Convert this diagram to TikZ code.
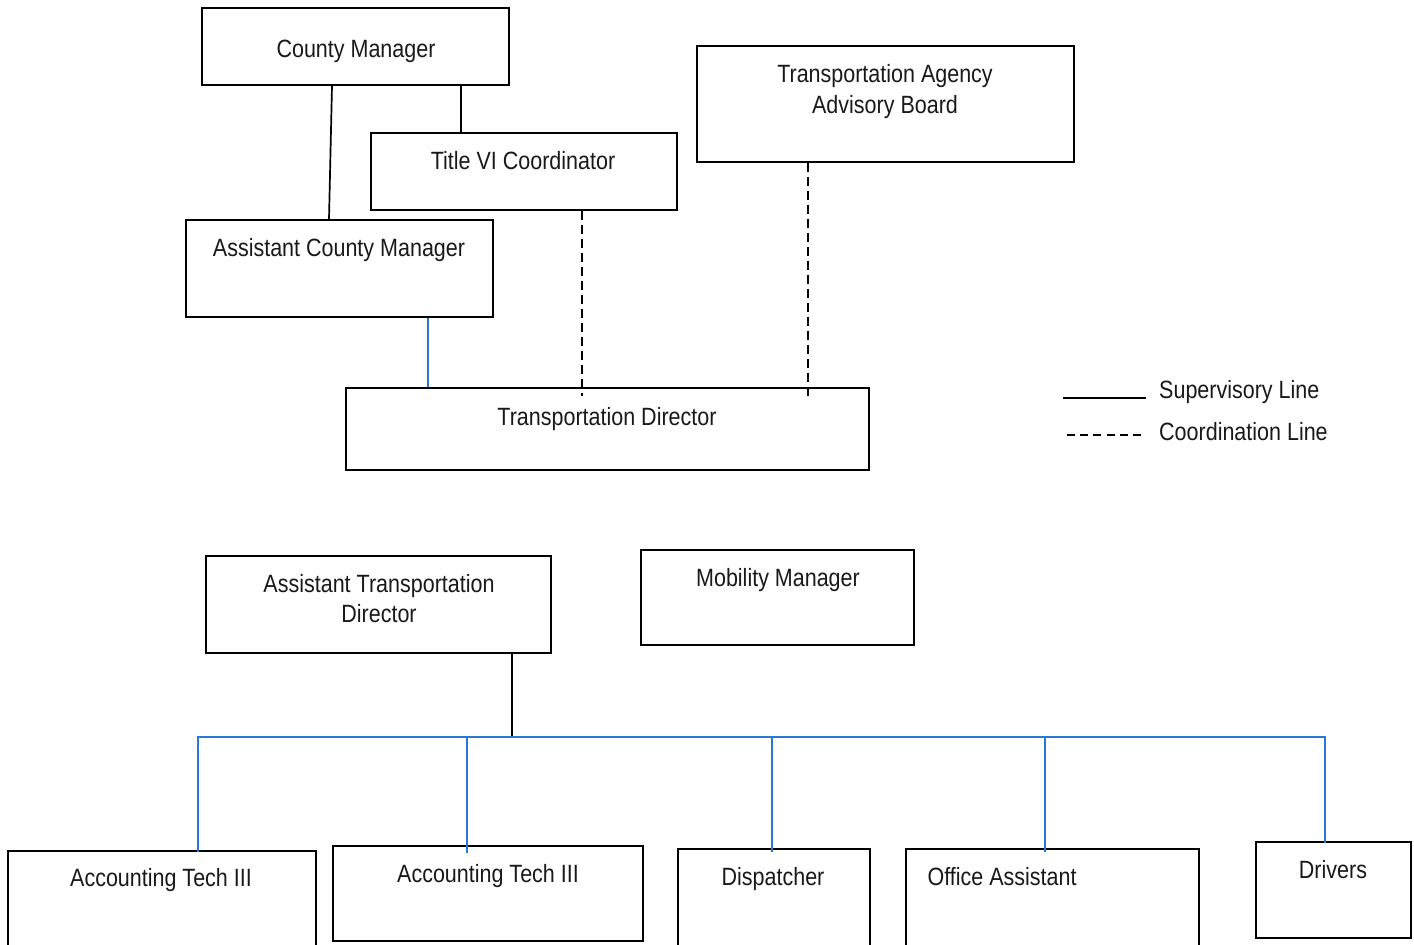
\documentclass[tikz,border=0pt]{standalone}
\usepackage{fontspec}
\setmainfont[FakeStretch=0.86]{Liberation Sans}
\definecolor{supblue}{RGB}{40,120,215}
\tikzset{
  box/.style={draw=black, line width=1.7pt, inner sep=0pt},
  lbl/.style={anchor=base, inner sep=0pt, font=\fontsize{25}{30}\selectfont, text=black!90},
  sup/.style={draw=black, line width=1.7pt},
  supb/.style={draw=supblue, line width=1.6pt},
  coord/.style={draw=black, line width=1.7pt, dash pattern=on 9pt off 5pt},
}
\newcommand{\mkbox}[5]{\node[box, minimum width=#4pt-#2pt, minimum height=#5pt-#3pt] (#1) at ({(#2+#4)/2},{(#3+#5)/2}) {};}
\begin{document}
\begin{tikzpicture}[x=1pt,y=-1pt]
\useasboundingbox (0,0) rectangle (1414,945);
% boxes
\mkbox{cm}{202}{8}{509}{85}
\mkbox{t6}{371}{133}{677}{210}
\mkbox{tab}{697}{46}{1074}{162}
\mkbox{acm}{186}{220}{493}{317}
\mkbox{td}{346}{388}{869}{470}
\mkbox{atd}{206}{556}{551}{653}
\mkbox{mm}{641}{550}{914}{645}
\mkbox{at1}{8}{851}{316}{950}
\mkbox{at2}{333}{846}{643}{941}
\mkbox{dis}{678}{849}{870}{950}
\mkbox{oa}{906}{849}{1199}{950}
\mkbox{drv}{1256}{842}{1411}{938}
% labels
\node[lbl] (cmt) at (356,57) {County Manager};
\node[lbl] (t6t) at (523,169) {Title VI Coordinator};
\node[lbl] (tabt1) at (885,82) {Transportation Agency};
\node[lbl] (tabt2) at (885,113) {Advisory Board};
\node[lbl] (acmt) at (339,256) {Assistant County Manager};
\node[lbl] (tdt) at (607,425) {Transportation Director};
\node[lbl] (atdt1) at (379,592) {Assistant Transportation};
\node[lbl] (atdt2) at (379,622) {Director};
\node[lbl] (mmt) at (778,586) {Mobility Manager};
\node[lbl] (at1t) at (161,886) {Accounting Tech III};
\node[lbl] (at2t) at (488,882) {Accounting Tech III};
\node[lbl] (dist) at (773,885) {Dispatcher};
\node[lbl] (oat) at (1002,885) {Office Assistant};
\node[lbl] (drvt) at (1333,878) {Drivers};
% connectors
\draw[sup] (cm.south -| 332,0) -- (acm.north -| 329,0);
\draw[sup] (cm.south -| 461,0) -- (t6.north -| 461,0);
\draw[coord] (t6.south -| 582,0) -- ([yshift=-9pt]td.north -| 582,0);
\draw[coord] (tab.south -| 808,0) -- ([yshift=-9pt]td.north -| 808,0);
\draw[supb] (acm.south -| 428,0) -- (td.north -| 428,0);
\coordinate (bus) at (512,737);
\draw[sup] (atd.south -| bus) -- (bus);
\draw[supb] ([yshift=-2pt]at1.north -| 198,0) |- (bus);
\draw[supb] (bus) -| ([yshift=-2pt]drv.north -| 1325,0);
\draw[supb] (bus -| 467,0) -- ([yshift=-8pt]at2.north -| 467,0);
\draw[supb] (bus -| 772,0) -- ([yshift=-4pt]dis.north -| 772,0);
\draw[supb] (bus -| 1045,0) -- ([yshift=-4pt]oa.north -| 1045,0);
% legend
\coordinate (ls1) at (1063,398);
\coordinate (ls2) at (1146,398);
\coordinate (lc1) at (1067,435);
\coordinate (lc2) at (1146,435);
\draw[sup, line width=1.5pt] (ls1) -- (ls2);
\draw[line width=1.5pt, dash pattern=on 8pt off 5.2pt] (lc1) -- (lc2);
\node[lbl, anchor=base west] (lgs) at (1159,398) {Supervisory Line};
\node[lbl, anchor=base west] (lgc) at (1159,440) {Coordination Line};
\end{tikzpicture}
\end{document}
